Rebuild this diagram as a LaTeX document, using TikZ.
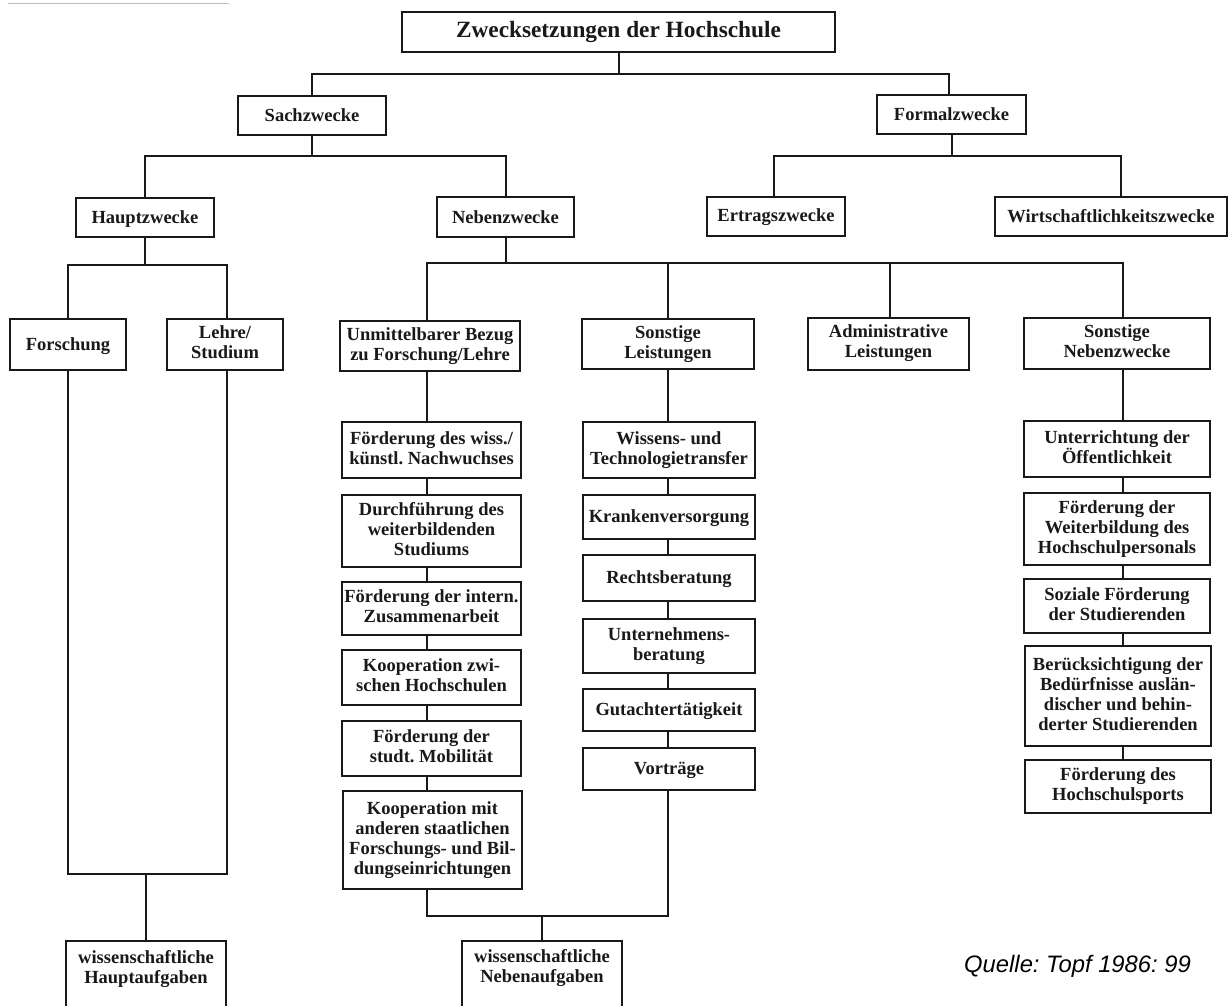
\documentclass[tikz,border=0pt]{standalone}
\usepackage{fontspec}
\setmainfont{Liberation Serif}
\newfontfamily\quellefont{Liberation Sans}
\frenchspacing
% invisible rule that fixes the height and depth of the text in each box
\newcommand\boxstrut{\vrule width 0pt height 16pt depth 4pt\relax}
\begin{document}
\begin{tikzpicture}[x=1pt,y=-1pt,
  box/.style={draw=black!90, line width=2pt, fill=white, inner sep=0pt,
    align=center, text=black!90, font=\bfseries\fontsize{18.5}{20}\selectfont,
    execute at begin node=\boxstrut, execute at end node=\boxstrut},
  openbox/.style={box, draw=none},
  conn/.style={draw=black!90, line width=2pt},
  frame/.style={draw=black!90, line width=2pt}]
\useasboundingbox (0,0) rectangle (1228,1005);
\fill[white] (0,0) rectangle (1228,1005);
% faint rule at the top left
\draw[black!25, line width=1pt] (8,3.5) -- (229,3.5);

% --- levels 0 to 2
\node[box, minimum width=433pt, minimum height=40pt, font=\bfseries\fontsize{23.3}{27}\selectfont,
  execute at begin node={}, execute at end node={}, text height=16pt, text depth=5pt]
  (top) at (618.5,32) {Zwecksetzungen der Hochschule};
\node[box, minimum width=148pt, minimum height=39pt] (sach) at (312,115.5) {Sachzwecke};
\node[box, minimum width=149pt, minimum height=39pt] (formal) at (951.5,114.5) {Formalzwecke};
\node[box, minimum width=138pt, minimum height=39pt] (haupt) at (145,217.5) {Hauptzwecke};
\node[box, minimum width=137pt, minimum height=40pt] (neben) at (505.5,217) {Nebenzwecke};
\node[box, minimum width=138pt, minimum height=39pt] (ertrag) at (776,216) {Ertragszwecke};
\node[box, minimum width=232pt, minimum height=39pt] (wirt) at (1111,216.5) {Wirtschaftlichkeitszwecke};

% --- level 3
\node[box, minimum width=116pt, minimum height=51pt] (forsch) at (68,344.5) {Forschung};
\node[box, minimum width=116pt, minimum height=51pt] (lehre) at (225,344.5) {Lehre/\\Studium};
\node[box, minimum width=180pt, minimum height=50pt] (unm) at (430,346) {Unmittelbarer Bezug\\zu Forschung/Lehre};
\node[box, minimum width=172pt, minimum height=50pt] (sleist) at (668,344) {Sonstige\\Leistungen};
\node[box, minimum width=161pt, minimum height=52pt] (admin) at (888.5,343.5) {Administrative\\Leistungen};
\node[box, minimum width=186pt, minimum height=51pt] (sneb) at (1117,343.5) {Sonstige\\Nebenzwecke};

% --- column: direct relation to research and teaching
\node[box, minimum width=179pt, minimum height=56pt] (fw) at (431.5,450) {Förderung des wiss./\\künstl. Nachwuchses};
\node[box, minimum width=179pt, minimum height=72pt] (du) at (431.5,531) {Durchführung des\\weiterbildenden\\Studiums};
\node[box, minimum width=179pt, minimum height=53pt] (in) at (431.5,608.5) {Förderung der intern.\\Zusammenarbeit};
\node[box, minimum width=179pt, minimum height=55pt] (kz) at (431.5,677.5) {Kooperation zwi-\\schen Hochschulen};
\node[box, minimum width=179pt, minimum height=55pt] (mo) at (431.5,748.5) {Förderung der\\studt. Mobilität};
\node[box, minimum width=179pt, minimum height=98pt] (km) at (432.5,840) {Kooperation mit\\anderen staatlichen\\Forschungs- und Bil-\\dungseinrichtungen};

% --- column: other services
\node[box, minimum width=172pt, minimum height=56pt] (wt) at (669,450) {Wissens- und\\Technologietransfer};
\node[box, minimum width=172pt, minimum height=44pt] (kv) at (669,517) {Krankenversorgung};
\node[box, minimum width=172pt, minimum height=46pt] (rb) at (669,577.5) {Rechtsberatung};
\node[box, minimum width=172pt, minimum height=54pt] (ub) at (669,646) {Unternehmens-\\beratung};
\node[box, minimum width=172pt, minimum height=42pt] (gt) at (669,710) {Gutachtertätigkeit};
\node[box, minimum width=172pt, minimum height=42pt] (vt) at (669,769) {Vorträge};

% --- column: other secondary purposes
\node[box, minimum width=186pt, minimum height=56pt] (uo) at (1117,449) {Unterrichtung der\\Öffentlichkeit};
\node[box, minimum width=186pt, minimum height=72pt] (fwb) at (1117,529) {Förderung der\\Weiterbildung des\\Hochschulpersonals};
\node[box, minimum width=186pt, minimum height=54pt] (sf) at (1117,606) {Soziale Förderung\\der Studierenden};
\node[box, minimum width=186pt, minimum height=100pt] (bb) at (1118,696) {Berücksichtigung der\\Bedürfnisse auslän-\\discher und behin-\\derter Studierenden};
\node[box, minimum width=186pt, minimum height=53pt] (hs) at (1118,786.5) {Förderung des\\Hochschulsports};

% --- results (their lower edges run past the page)
\node[openbox, minimum width=158pt, minimum height=60pt] (hauptA) at (146,969) {wissenschaftliche\\Hauptaufgaben};
\node[openbox, minimum width=158pt, minimum height=60pt] (nebenA) at (542,968.5) {wissenschaftliche\\Nebenaufgaben};
\draw[frame] ([yshift=-25pt]hauptA.south west) |- ([yshift=-3pt]hauptA.north east) -- ([yshift=-25pt]hauptA.south east);
\draw[frame] ([yshift=-25pt]nebenA.south west) |- ([yshift=-3pt]nebenA.north east) -- ([yshift=-25pt]nebenA.south east);

% --- junctions and column lines
\coordinate (j0) at (618.5,74);
\coordinate (j1) at (312,156);
\coordinate (j2) at (951.5,156);
\coordinate (j3) at (145,265);
\coordinate (j4) at (505.5,263);
\coordinate (j5) at (146,874);
\coordinate (j6) at (542,916);
\coordinate (c1) at (427,0);
\coordinate (c2) at (667.5,0);
\coordinate (c4) at (1123,0);

% --- connectors
\draw[conn] (top.south) -- (j0);
\draw[conn] (sach.north) |- (j0) -| ([xshift=-3pt]formal.north);
\draw[conn] (sach.south) -- (j1);
\draw[conn] (haupt.north) |- (j1) -| (neben.north);
\draw[conn] (formal.south) -- (j2);
\draw[conn] ([xshift=-2pt]ertrag.north) |- (j2) -| ([xshift=10pt]wirt.north);
\draw[conn] (haupt.south) -- (j3);
\draw[conn] (forsch.north) |- (j3) -| ([xshift=2pt]lehre.north);
\draw[conn] (neben.south) -- (j4);
\draw[conn] (unm.north -| c1) |- (j4) -| (sneb.north -| c4);
\draw[conn] (sleist.north -| c2) |- (j4);
\draw[conn] ([xshift=1.5pt]admin.north) |- (j4);

\foreach \a/\b in {unm/fw, fw/du, du/in, in/kz, kz/mo, mo/km}
  \draw[conn] (\a.south -| c1) -- (\b.north -| c1);
\foreach \a/\b in {sleist/wt, wt/kv, kv/rb, rb/ub, ub/gt, gt/vt}
  \draw[conn] (\a.south -| c2) -- (\b.north -| c2);
\foreach \a/\b in {sneb/uo, uo/fwb, fwb/sf, sf/bb, bb/hs}
  \draw[conn] (\a.south -| c4) -- (\b.north -| c4);

\draw[conn] (forsch.south) |- (j5) -| ([xshift=2pt]lehre.south);
\draw[conn] (j5) -- ([yshift=-3pt]hauptA.north);
\draw[conn] (km.south -| c1) |- (j6) -| (vt.south -| c2);
\draw[conn] (j6) -- ([yshift=-3pt]nebenA.north);

% --- source
\node[anchor=base west, inner sep=0pt, text=black,
  font=\quellefont\itshape\fontsize{23.8}{26}\selectfont] (src) at (964,972) {Quelle: Topf 1986: 99};
\end{tikzpicture}
\end{document}
